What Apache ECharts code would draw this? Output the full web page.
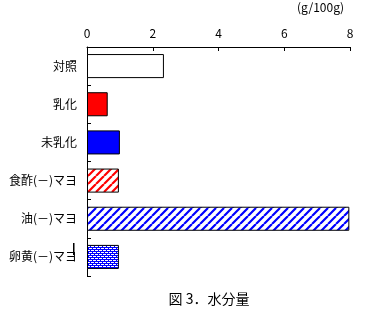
<!DOCTYPE html>
<html>
<head>
<meta charset="utf-8">
<script src="https://cdn.jsdelivr.net/npm/echarts@6/dist/echarts.min.js"></script>
<style>
  html, body { margin: 0; padding: 0; background: #fff; }
  #chart { width: 365px; height: 311px; }
</style>
</head>
<body>
<div id="chart"></div>
<script>
// データ
const categories = ['対照', '乳化', '未乳化', '食酢(－)マヨ', '油(－)マヨ', '卵黄(－)マヨ'];
const values = [2.34, 0.63, 1.0, 0.97, 7.98, 0.97];
const xTicks = [0, 2, 4, 6, 8];
const unitLabel = '(g/100g)';
const titleText = '図 3．水分量';

const font = '"Noto Sans CJK JP", "Noto Sans", sans-serif';

// 斜線パターン
function stripe(color) {
  const c = document.createElement('canvas');
  c.width = 8; c.height = 8;
  const ctx = c.getContext('2d');
  ctx.fillStyle = '#fff';
  ctx.fillRect(0, 0, 8, 8);
  ctx.strokeStyle = color;
  ctx.lineWidth = 2.2;
  ctx.beginPath();
  for (let k = -8; k <= 16; k += 8) {
    ctx.moveTo(k, 8);
    ctx.lineTo(k + 8, 0);
  }
  ctx.stroke();
  return { image: c, repeat: 'repeat' };
}
// 網目パターン
function mesh(color) {
  const c = document.createElement('canvas');
  c.width = 4; c.height = 4;
  const ctx = c.getContext('2d');
  ctx.fillStyle = '#fff';
  ctx.fillRect(0, 0, 4, 4);
  ctx.fillStyle = color;
  for (let x = 0; x < 4; x++) {
    for (let y = 0; y < 4; y++) {
      if ((x + y) % 4 === 0 || (x - y + 4) % 4 === 0 || (x + y) % 2 === 1 && x % 2 === 0) ctx.fillRect(x, y, 1, 1);
    }
  }
  return { image: c, repeat: 'repeat' };
}

const fills = ['#ffffff', '#ff0000', '#0000ff', stripe('#ff0000'), stripe('#0000ff'), mesh('#0000ff')];

let myChart = echarts.init(document.getElementById('chart'));
let option = {
  animation: false,
  grid: { left: 87, right: 15, top: 47, bottom: 35 },
  title: {
    text: titleText,
    left: 204, top: 287, textAlign: 'center',
    textStyle: { fontFamily: font, fontSize: 14, fontWeight: 'normal', color: '#000' }
  },
  graphic: [
    { type: 'text', left: 297, top: 1,
      style: { text: unitLabel, font: '12px ' + font, fill: '#000' } },
    { type: 'rect', shape: { x: 73, y: 243, width: 1.5, height: 12 }, style: { fill: '#000' } }
  ],
  xAxis: {
    type: 'value', position: 'top',
    min: xTicks[0], max: xTicks[xTicks.length - 1], interval: 2,
    axisLine: { show: true, lineStyle: { color: '#000', width: 1 } },
    axisTick: { show: true, inside: true, length: 4, lineStyle: { color: '#000' } },
    axisLabel: { color: '#000', fontFamily: font, fontSize: 12, margin: 8 },
    splitLine: { show: false }
  },
  yAxis: {
    type: 'category', inverse: true, data: categories,
    axisLine: { show: true, lineStyle: { color: '#000', width: 1 } },
    axisTick: { show: true, inside: true, length: 4, lineStyle: { color: '#000' } },
    axisLabel: { color: '#000', fontFamily: font, fontSize: 12, margin: 10 }
  },
  series: [{
    type: 'bar',
    barCategoryGap: '37%',
    data: values.map((v, i) => ({
      value: v,
      itemStyle: { color: fills[i], borderColor: '#000', borderWidth: 1 }
    }))
  }]
};
myChart.setOption(option);
</script>
</body>
</html>
